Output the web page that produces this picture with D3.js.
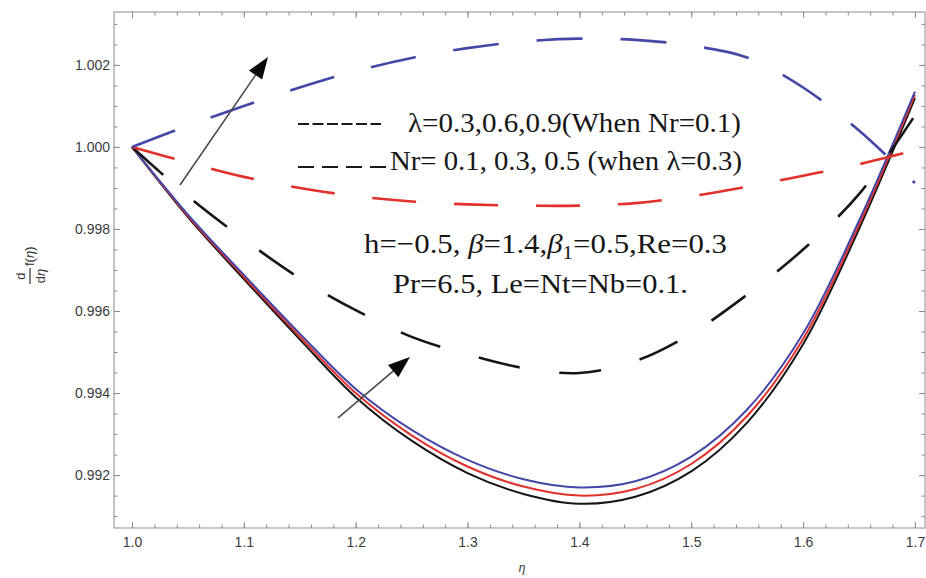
<!DOCTYPE html>
<html>
<head>
<meta charset="utf-8">
<script src="https://cdn.jsdelivr.net/npm/d3@7"></script>
<style>
body { margin: 0; background: #fff; }
svg { display: block; }
.axis path { display: none; }
.axis line { stroke: #8c8c8c; }
.axis text { font-family: "Liberation Sans", Arial, sans-serif; font-size: 14px; fill: #3c3c3c; }
.note { font-family: "Liberation Serif", "Times New Roman", serif; font-size: 28px; fill: #161616; }
.lab { font-family: "Liberation Sans", Arial, sans-serif; font-size: 12px; fill: #333; }
</style>
</head>
<body>
<svg id="chart" width="926" height="578"></svg>
<script>
// eta grid and the six curves
var etaGrid = [1.00, 1.05, 1.10, 1.15, 1.20, 1.25, 1.30, 1.35, 1.40, 1.45, 1.50, 1.55, 1.60, 1.65, 1.70];

var solidBlack = [1.00000, 0.99829, 0.99678, 0.99531, 0.99390, 0.99284, 0.99205, 0.99154, 0.99130, 0.99147, 0.99209, 0.99328, 0.99519, 0.99800, 1.00119];
var solidRed   = [1.00000, 0.99832, 0.99683, 0.99538, 0.99400, 0.99297, 0.99221, 0.99172, 0.99150, 0.99166, 0.99227, 0.99344, 0.99532, 0.99810, 1.00127];
var solidBlue  = [1.00000, 0.99835, 0.99688, 0.99545, 0.99410, 0.99310, 0.99237, 0.99190, 0.99170, 0.99185, 0.99245, 0.99360, 0.99545, 0.99820, 1.00135];

var dashBlack = [1.00000, 0.99880, 0.99775, 0.99680, 0.99602, 0.99537, 0.99494, 0.99461, 0.99449, 0.99478, 0.99545, 0.99640, 0.99750, 0.99885, 1.00077];
var dashRed   = [1.00000, 0.99962, 0.99927, 0.99900, 0.99880, 0.99867, 0.99860, 0.99857, 0.99857, 0.99863, 0.99880, 0.99903, 0.99930, 0.99958, 0.99992];
var dashBlue  = [1.00000, 1.00052, 1.00100, 1.00145, 1.00185, 1.00217, 1.00241, 1.00257, 1.00264, 1.00261, 1.00247, 1.00218, 1.00145, 1.00040, 0.99912];

var xMajor = [1.0, 1.1, 1.2, 1.3, 1.4, 1.5, 1.6, 1.7];
var yMajor = [0.992, 0.994, 0.996, 0.998, 1.000, 1.002];

// arrows (data units): tail, tip
var arrowTail = [[1.0429, 0.999074], [1.1842, 0.993393]];
var arrowTip  = [[1.1216, 1.002194], [1.2485, 0.994880]];

var legendText = ["λ=0.3,0.6,0.9(When Nr=0.1)", "Nr= 0.1, 0.3, 0.5 (when λ=0.3)"];

var svg = d3.select("#chart");
var pLeft = 114, pRight = 925, pTop = 12, pBottom = 528;

var xScale = d3.scaleLinear().domain([0.9839, 1.709]).range([pLeft, pRight]);
var yScale = d3.scaleLinear().domain([0.99071, 1.00329]).range([pBottom, pTop]);

var xMinor = d3.range(0.98, 1.71, 0.02).filter(function(v) { return v > 0.9839 && v < 1.709; });
var yMinor = d3.range(0.9905, 1.00330, 0.0005).filter(function(v) { return v > 0.99071 && v < 1.00329; });

// frame
svg.append("rect")
	.attr("x", pLeft).attr("y", pTop)
	.attr("width", pRight - pLeft).attr("height", pBottom - pTop)
	.style("fill", "none").style("stroke", "#a0a0a0").style("stroke-width", 1.2);

function addAxis(axis, tr) {
	svg.append("g").attr("class", "axis").attr("transform", tr).call(axis);
}

addAxis(d3.axisBottom(xScale).tickValues(xMajor).tickSize(-6).tickPadding(9).tickFormat(d3.format(".1f")), "translate(0," + pBottom + ")");
addAxis(d3.axisBottom(xScale).tickValues(xMinor).tickSize(-3.5).tickFormat(""), "translate(0," + pBottom + ")");
addAxis(d3.axisTop(xScale).tickValues(xMajor).tickSize(-6).tickFormat(""), "translate(0," + pTop + ")");
addAxis(d3.axisTop(xScale).tickValues(xMinor).tickSize(-3.5).tickFormat(""), "translate(0," + pTop + ")");
addAxis(d3.axisLeft(yScale).tickValues(yMajor).tickSize(-6).tickPadding(4).tickFormat(d3.format(".3f")), "translate(" + pLeft + ",0)");
addAxis(d3.axisLeft(yScale).tickValues(yMinor).tickSize(-3.5).tickFormat(""), "translate(" + pLeft + ",0)");
addAxis(d3.axisRight(yScale).tickValues(yMajor).tickSize(-6).tickFormat(""), "translate(" + pRight + ",0)");
addAxis(d3.axisRight(yScale).tickValues(yMinor).tickSize(-3.5).tickFormat(""), "translate(" + pRight + ",0)");

var line = d3.line()
	.x(function(d) { return xScale(d[0]); })
	.y(function(d) { return yScale(d[1]); })
	.curve(d3.curveCatmullRom.alpha(0.5));

function pairs(vals) {
	return etaGrid.map(function(e, i) { return [e, vals[i]]; });
}

var curves = [
	{ v: solidBlack, c: "#151515", w: 2, dash: null },
	{ v: solidRed, c: "#e2302b", w: 2, dash: null },
	{ v: solidBlue, c: "#4348a8", w: 2, dash: null },
	{ v: dashBlack, c: "#151515", w: 2.6, dash: "42,40" },
	{ v: dashRed, c: "#e2302b", w: 2.6, dash: "44,38" },
	{ v: dashBlue, c: "#4348a8", w: 2.6, dash: "46,38" }
];

var g_lines = svg.append("g");
curves.forEach(function(cv) {
	g_lines.append("path")
		.attr("d", line(pairs(cv.v)))
		.style("fill", "none")
		.style("stroke", cv.c)
		.style("stroke-width", cv.w)
		.style("stroke-dasharray", cv.dash);
});

// arrows
arrowTail.forEach(function(t, i) {
	var x0 = xScale(t[0]), y0 = yScale(t[1]);
	var x1 = xScale(arrowTip[i][0]), y1 = yScale(arrowTip[i][1]);
	var dx = x1 - x0, dy = y1 - y0, len = Math.sqrt(dx * dx + dy * dy);
	var ux = dx / len, uy = dy / len;
	var hl = 22, hw = 8;
	var bx = x1 - ux * hl, by = y1 - uy * hl;
	svg.append("path")
		.attr("d", "M" + x0 + "," + y0 + "L" + bx + "," + by)
		.style("stroke", "#4a4a4a").style("stroke-width", 1.6);
	svg.append("path")
		.attr("d", "M" + x1 + "," + y1 + "L" + (bx - uy * hw) + "," + (by + ux * hw) + "L" + (bx + uy * hw) + "," + (by - ux * hw) + "Z")
		.style("fill", "#0a0a0a");
});

// legend samples
svg.append("path").attr("d", "M298,124L381,124")
	.style("stroke", "#1a1a1a").style("stroke-width", 2.2).style("stroke-dasharray", "11,3.5");
svg.append("path").attr("d", "M298,167L386,167")
	.style("stroke", "#1a1a1a").style("stroke-width", 2.2).style("stroke-dasharray", "16,8");

svg.append("text").attr("class", "note").attr("x", 408).attr("y", 132)
	.attr("textLength", 333).attr("lengthAdjust", "spacingAndGlyphs").text(legendText[0]);
svg.append("text").attr("class", "note").attr("x", 390).attr("y", 170)
	.attr("textLength", 352).attr("lengthAdjust", "spacingAndGlyphs").text(legendText[1]);

var t3 = svg.append("text").attr("class", "note").attr("x", 364).attr("y", 253)
	.attr("textLength", 363).attr("lengthAdjust", "spacingAndGlyphs");
t3.append("tspan").text("h=\u22120.5, ");
t3.append("tspan").style("font-style", "italic").text("\u03b2");
t3.append("tspan").text("=1.4,");
t3.append("tspan").style("font-style", "italic").text("\u03b2");
t3.append("tspan").attr("dy", 6).style("font-size", "19px").text("1");
t3.append("tspan").attr("dy", -6).text("=0.5,Re=0.3");

svg.append("text").attr("class", "note").attr("x", 393).attr("y", 293)
	.attr("textLength", 295).attr("lengthAdjust", "spacingAndGlyphs").text("Pr=6.5, Le=Nt=Nb=0.1.");

// axis labels
svg.append("text").attr("class", "lab").attr("x", 522).attr("y", 572)
	.attr("text-anchor", "middle").style("font-style", "italic").text("\u03b7");

var ylab = svg.append("g").attr("transform", "translate(30,284) rotate(-90)");
ylab.append("text").attr("class", "lab").style("font-size", "13px").attr("x", 8).attr("y", -5).attr("text-anchor", "middle").text("d");
ylab.append("path").attr("d", "M0,0L16,0").style("stroke", "#333").style("stroke-width", 1.2);
var den = ylab.append("text").attr("class", "lab").style("font-size", "13px").attr("x", 8).attr("y", 15).attr("text-anchor", "middle");
den.append("tspan").text("d");
den.append("tspan").style("font-style", "italic").text("\u03b7");
var fl = ylab.append("text").attr("class", "lab").style("font-size", "13px").attr("x", 18).attr("y", 4);
fl.append("tspan").text("f(");
fl.append("tspan").style("font-style", "italic").text("\u03b7");
fl.append("tspan").text(")");
</script>
</body>
</html>
